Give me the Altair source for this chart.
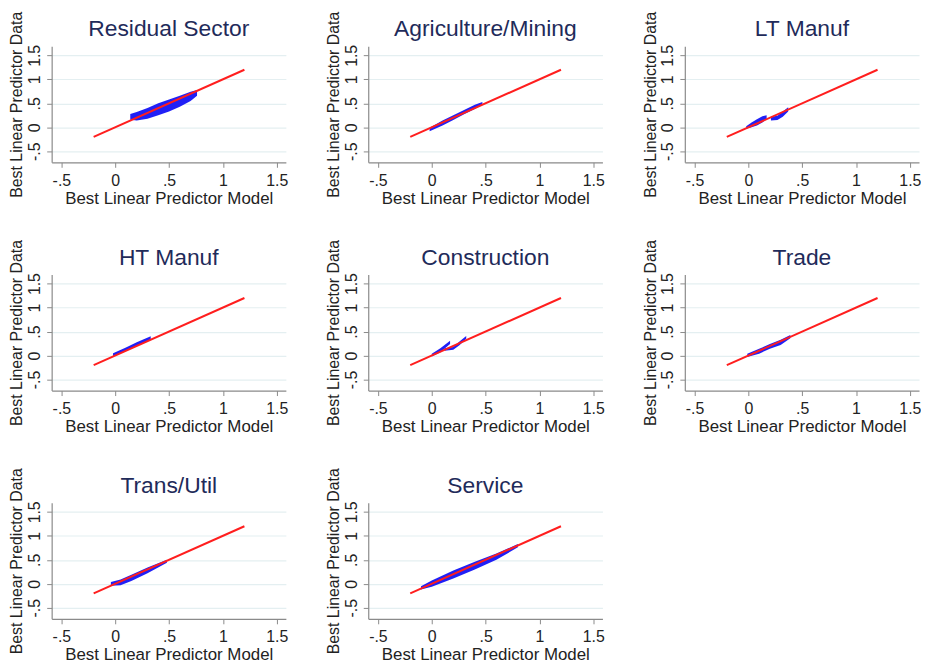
import altair as alt
import pandas as pd

# ---------------- data ----------------
SECTORS = ["Residual Sector", "Agriculture/Mining", "LT Manuf", "HT Manuf",
           "Construction", "Trade", "Trans/Util", "Service"]

TICK_VALUES = [-0.5, 0, 0.5, 1, 1.5]
TICK_LABELS = ["-.5", "0", ".5", "1", "1.5"]

# 45-degree reference line (red)
FIT_X = [-0.2, 1.2]
FIT_Y = [-0.2, 1.2]

# blue point clouds, read as bands (x, lower edge, upper edge) per segment
RES_X = [0.14, 0.2, 0.3, 0.4, 0.5, 0.6, 0.7, 0.76]
RES_LO = [0.16, 0.14, 0.18, 0.25, 0.33, 0.43, 0.55, 0.66]
RES_HI = [0.28, 0.32, 0.40, 0.50, 0.58, 0.66, 0.74, 0.78]

AGR_X = [-0.02, 0.1, 0.2, 0.3, 0.4, 0.47]
AGR_LO = [-0.08, 0.04, 0.15, 0.27, 0.38, 0.47]
AGR_HI = [-0.01, 0.14, 0.25, 0.36, 0.47, 0.53]

LTM1_X = [-0.02, 0.03, 0.08, 0.13, 0.17]
LTM1_LO = [-0.03, 0.0, 0.04, 0.10, 0.17]
LTM1_HI = [0.02, 0.10, 0.17, 0.23, 0.25]
LTM2_X = [0.21, 0.27, 0.32, 0.37]
LTM2_LO = [0.14, 0.15, 0.22, 0.33]
LTM2_HI = [0.22, 0.24, 0.33, 0.42]

HTM_X = [-0.02, 0.1, 0.2, 0.33]
HTM_LO = [-0.02, 0.10, 0.20, 0.33]
HTM_HI = [0.05, 0.17, 0.28, 0.40]

CON1_X = [0.0, 0.08, 0.17]
CON1_LO = [-0.02, 0.07, 0.24]
CON1_HI = [0.04, 0.15, 0.31]
CON2_X = [0.12, 0.2, 0.26, 0.32]
CON2_LO = [0.10, 0.12, 0.22, 0.35]
CON2_HI = [0.15, 0.18, 0.30, 0.41]

TRD_X = [-0.01, 0.1, 0.2, 0.3, 0.39]
TRD_LO = [-0.03, 0.04, 0.14, 0.22, 0.36]
TRD_HI = [0.04, 0.14, 0.24, 0.33, 0.43]

TRU_X = [-0.04, 0.05, 0.15, 0.3, 0.48]
TRU_LO = [-0.04, -0.03, 0.06, 0.22, 0.44]
TRU_HI = [0.04, 0.09, 0.19, 0.34, 0.50]

SRV_X = [-0.1, 0.0, 0.2, 0.4, 0.6, 0.8]
SRV_LO = [-0.12, -0.06, 0.11, 0.30, 0.50, 0.76]
SRV_HI = [-0.05, 0.07, 0.28, 0.46, 0.63, 0.83]

CLOUDS = {
    "Residual Sector": [(RES_X, RES_LO, RES_HI)],
    "Agriculture/Mining": [(AGR_X, AGR_LO, AGR_HI)],
    "LT Manuf": [(LTM1_X, LTM1_LO, LTM1_HI), (LTM2_X, LTM2_LO, LTM2_HI)],
    "HT Manuf": [(HTM_X, HTM_LO, HTM_HI)],
    "Construction": [(CON1_X, CON1_LO, CON1_HI), (CON2_X, CON2_LO, CON2_HI)],
    "Trade": [(TRD_X, TRD_LO, TRD_HI)],
    "Trans/Util": [(TRU_X, TRU_LO, TRU_HI)],
    "Service": [(SRV_X, SRV_LO, SRV_HI)],
}

# ---------------- styling ----------------
FONT = "Liberation Sans"
W, H = 236, 117
X_DOMAIN = [-0.59, 1.585]
Y_DOMAIN = [-0.73, 1.69]

label_expr = " : ".join(
    f"datum.value == {v} ? '{l}'" for v, l in zip(TICK_VALUES[:-1], TICK_LABELS[:-1])
) + f" : '{TICK_LABELS[-1]}'"

xscale = alt.Scale(domain=X_DOMAIN, nice=False, zero=False)
yscale = alt.Scale(domain=Y_DOMAIN, nice=False, zero=False)

xaxis = alt.Axis(values=TICK_VALUES, labelExpr=label_expr, grid=False,
                 labelFontSize=16, titleFontSize=17, labelPadding=5,
                 titlePadding=2, tickSize=5, labelFlush=False)
yaxis = alt.Axis(values=TICK_VALUES, labelExpr=label_expr, grid=True,
                 gridColor="#e4eff1", gridWidth=1.2,
                 labelAngle=270, labelAlign="center", labelBaseline="bottom",
                 labelFontSize=16, titleFontSize=16, labelPadding=4,
                 titlePadding=2, tickSize=5, labelFlush=False)

X_TITLE = "Best Linear Predictor Model"
Y_TITLE = "Best Linear Predictor Data"

fit_df = pd.DataFrame({"x": FIT_X, "y": FIT_Y})


def panel(name):
    rows = []
    for i, (xs, lo, hi) in enumerate(CLOUDS[name]):
        for a, b, c in zip(xs, lo, hi):
            rows.append({"seg": i, "x": a, "lo": b, "hi": c})
    cdf = pd.DataFrame(rows)
    cloud = alt.Chart(cdf).mark_area(color="#1414f5", opacity=0.95).encode(
        x=alt.X("x:Q", scale=xscale, axis=xaxis, title=X_TITLE),
        y=alt.Y("lo:Q", scale=yscale, axis=yaxis, title=Y_TITLE),
        y2="hi:Q",
        detail="seg:N",
    )
    fit = alt.Chart(fit_df).mark_line(color="#ff1e1e", strokeWidth=2).encode(
        x=alt.X("x:Q", scale=xscale, axis=xaxis, title=X_TITLE),
        y=alt.Y("y:Q", scale=yscale, axis=yaxis, title=Y_TITLE),
    )
    title = alt.Chart(pd.DataFrame({"name": [name]})).mark_text(
        font=FONT, fontSize=23, color="#1f2b5a", align="center",
        baseline="alphabetic",
    ).encode(x=alt.value(W / 2), y=alt.value(-10), text="name:N")
    return alt.layer(cloud, fit, title).properties(width=W, height=H)


panels = [panel(s) for s in SECTORS]
row1 = alt.hconcat(*panels[0:3], spacing=37)
row2 = alt.hconcat(*panels[3:6], spacing=37)
row3 = alt.hconcat(*panels[6:8], spacing=37)

chart = alt.vconcat(row1, row2, row3, spacing=33).properties(
    padding={"left": 0, "top": 0, "right": 0, "bottom": 0},
    background="white",
).configure_view(stroke=None).configure_axis(
    labelFont=FONT, titleFont=FONT, labelColor="#222222", titleColor="#222222",
    titleFontWeight="normal", domainColor="#8a8a8a", tickColor="#8a8a8a",
    domainWidth=1.2,
)

chart.save("out.html", embed_options={"renderer": "svg", "actions": False})
